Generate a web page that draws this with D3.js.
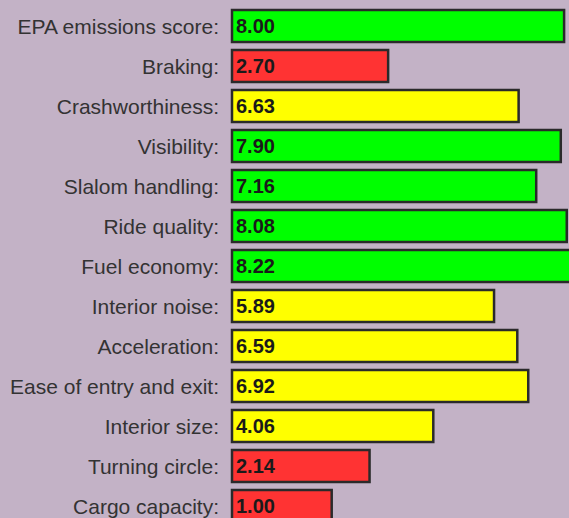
<!DOCTYPE html>
<html>
<head>
<meta charset="utf-8">
<script src="https://cdn.jsdelivr.net/npm/d3@7"></script>
<style>
html, body { margin: 0; padding: 0; background: #c3b2c6; }
svg { display: block; }
.label { font: 21px "Liberation Sans", Arial, sans-serif; fill: #333; }
.value { font: bold 20px "Liberation Sans", Arial, sans-serif; fill: #1a1a1a; }
</style>
</head>
<body>
<script>
// category names and scores, top to bottom
var categories = ["EPA emissions score", "Braking", "Crashworthiness", "Visibility",
  "Slalom handling", "Ride quality", "Fuel economy", "Interior noise", "Acceleration",
  "Ease of entry and exit", "Interior size", "Turning circle", "Cargo capacity"];
var scores = [8.00, 2.70, 6.63, 7.90, 7.16, 8.08, 8.22, 5.89, 6.59, 6.92, 4.06, 2.14, 1.00];

var W = 569, H = 518;
var barX = 232;

var svg = d3.select("body").append("svg")
    .attr("width", W)
    .attr("height", H);

var y = d3.scaleBand()
    .domain(categories)
    .range([6, 6 + 40 * categories.length])
    .paddingInner(0.2)
    .paddingOuter(0.1);

// bar end position
var x = d3.scaleLinear()
    .domain([0, 10])
    .range([298.5, 630.5]);

function barColor(v) {
  if (v >= 7) return "#00ff00";
  if (v >= 4) return "#ffff00";
  return "#ff3333";
}

var rows = svg.selectAll("g.row")
    .data(categories)
    .enter()
    .append("g")
    .attr("class", "row")
    .attr("transform", function(d) { return "translate(0," + y(d) + ")"; });

rows.append("rect")
    .attr("x", barX)
    .attr("y", 0)
    .attr("width", function(d, i) { return x(scores[i]) - barX; })
    .attr("height", y.bandwidth())
    .attr("fill", function(d, i) { return barColor(scores[i]); })
    .attr("stroke", "#2a2a2a")
    .attr("stroke-width", 2.5);

rows.append("text")
    .attr("class", "label")
    .attr("x", 219)
    .attr("y", y.bandwidth() / 2)
    .attr("dy", "0.36em")
    .attr("text-anchor", "end")
    .text(function(d) { return d + ":"; });

rows.append("text")
    .attr("class", "value")
    .attr("x", 236)
    .attr("y", y.bandwidth() / 2)
    .attr("dy", "0.36em")
    .text(function(d, i) { return scores[i].toFixed(2); });
</script>
</body>
</html>
